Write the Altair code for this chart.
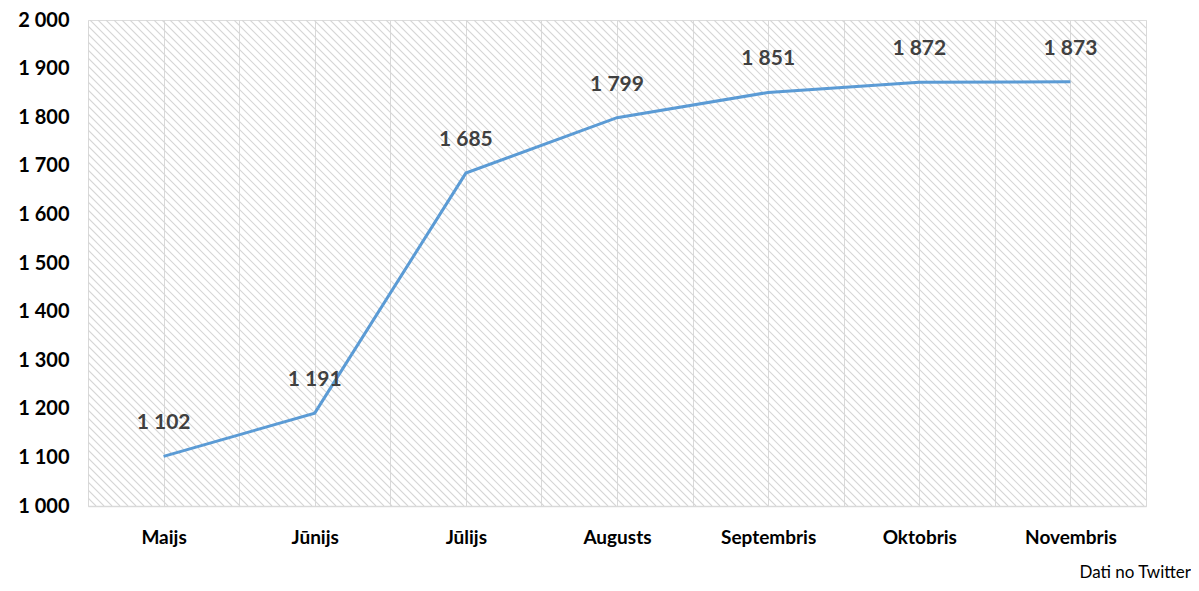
import json
import numpy as np
import pandas as pd
import altair as alt

months = ["Maijs", "Jūnijs", "Jūlijs", "Augusts", "Septembris", "Oktobris", "Novembris"]
values = [1102, 1191, 1685, 1799, 1851, 1872, 1873]
y_ticks = [1000, 1100, 1200, 1300, 1400, 1500, 1600, 1700, 1800, 1900, 2000]
footer = "Dati no Twitter"

W, H = 1058, 486
FONT = "Lato"

df = pd.DataFrame({"idx": list(range(len(months))), "month": months, "value": values})

# decorative hatch texture (plot-area pixel space)
rows = []
for c in np.arange(-H, W, 8):
    x0 = max(0, c)
    x1 = min(W, c + H)
    if x0 < x1:
        rows.append({"hx": x0, "hy": x0 - c, "hx2": x1, "hy2": x1 - c})
hatch_df = pd.DataFrame(rows)

hatch = alt.Chart(hatch_df).mark_rule(color="#d6d6d6", strokeWidth=1.1, clip=True).encode(
    x=alt.X("hx:Q", scale=None, axis=None),
    y=alt.Y("hy:Q", scale=None, axis=None),
    x2="hx2:Q",
    y2="hy2:Q",
)

label_expr = "datum.value % 1 == 0 ? " + json.dumps(months, ensure_ascii=False) + "[datum.value] : ''"
grid_vals = [i / 2 for i in range(-1, 2 * len(months))]

x_enc = alt.X(
    "idx:Q",
    scale=alt.Scale(domain=[-0.5, len(months) - 0.5], nice=False, zero=False),
    axis=alt.Axis(
        values=grid_vals,
        labelExpr=label_expr,
        title=None,
        grid=True,
        gridColor="#d9d9d9",
        gridWidth=1,
        ticks=False,
        domain=True,
        domainColor="#d9d9d9",
        domainWidth=1.5,
        labelFont=FONT,
        labelFontSize=19,
        labelFontWeight="bold",
        labelColor="#000000",
        labelPadding=22,
        labelOverlap=False,
    ),
)
y_enc = alt.Y(
    "value:Q",
    scale=alt.Scale(domain=[1000, 2000], nice=False, zero=False),
    axis=alt.Axis(
        values=y_ticks,
        labelExpr="replace(format(datum.value, ','), ',', ' ')",
        title=None,
        grid=False,
        ticks=False,
        domain=False,
        labelFont=FONT,
        labelFontSize=20,
        labelFontWeight="bold",
        labelColor="#000000",
        labelPadding=19,
    ),
)

line = alt.Chart(df).mark_line(color="#5B9BD5", strokeWidth=3).encode(x=x_enc, y=y_enc)

labels = alt.Chart(df).transform_calculate(
    lab="replace(format(datum.value, ','), ',', ' ')"
).mark_text(
    font=FONT, fontSize=21, fontWeight="bold", color="#404040", dy=-33, baseline="middle"
).encode(
    x=alt.X("idx:Q"), y=alt.Y("value:Q"), text="lab:N"
)

foot = alt.Chart(pd.DataFrame({"t": [footer]})).mark_text(
    font=FONT, fontSize=17, color="#000000", align="right", baseline="alphabetic"
).encode(
    x=alt.value(1103), y=alt.value(558), text="t:N"
)

chart = alt.layer(hatch, line, labels, foot).properties(
    width=W,
    height=H,
    autosize=alt.AutoSizeParams(type="none"),
    padding={"left": 80, "top": 12, "right": 45, "bottom": 77},
).configure_view(stroke=None).configure(background="#ffffff")

chart.save("out.html", embed_options={"renderer": "svg", "actions": False})
